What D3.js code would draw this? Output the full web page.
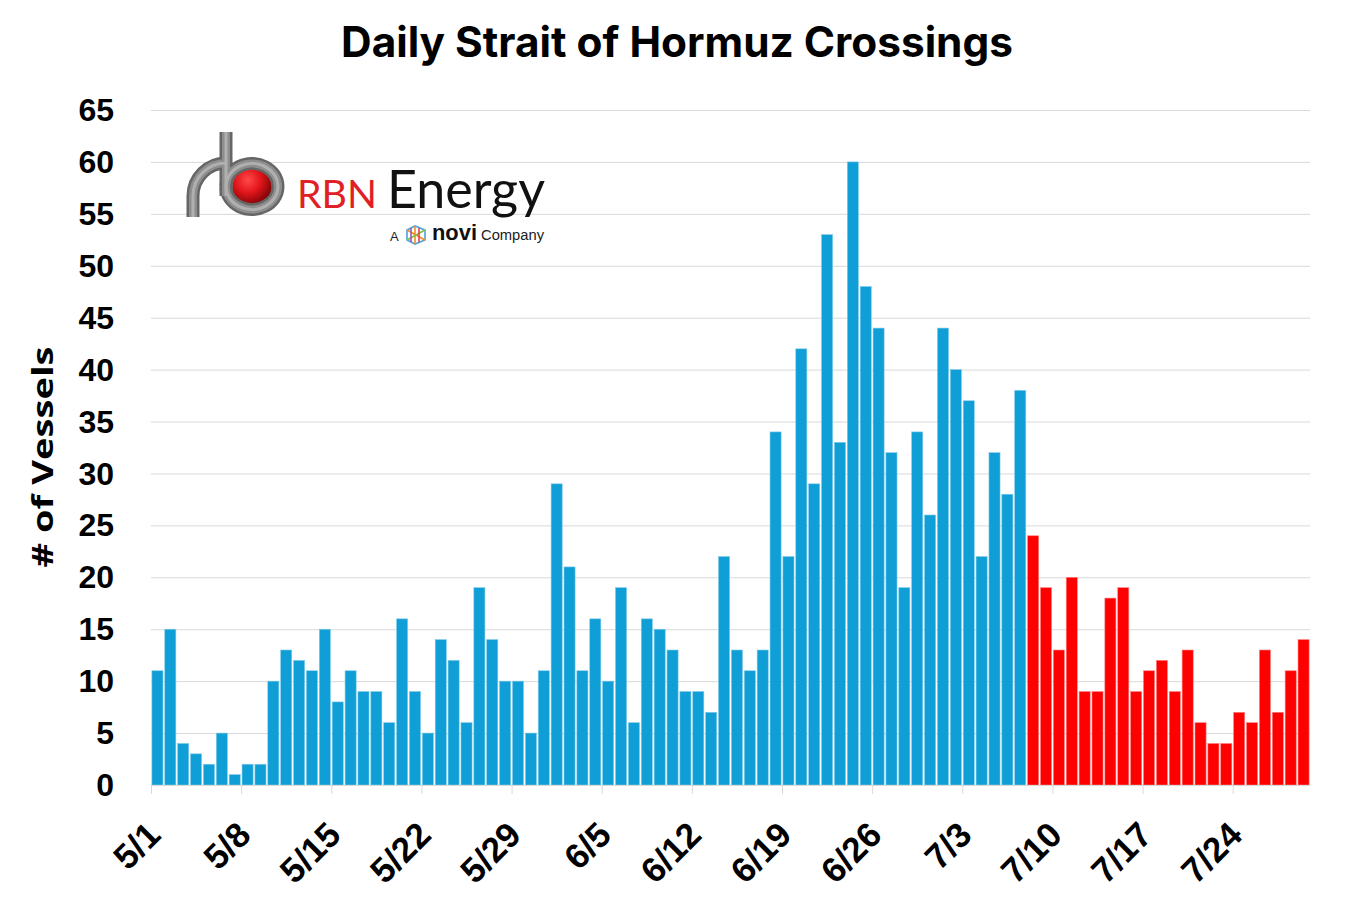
<!DOCTYPE html>
<html>
<head>
<meta charset="utf-8">
<script src="https://cdn.jsdelivr.net/npm/d3@7/dist/d3.min.js"></script>
<style>
  body { margin: 0; background: #fff; }
  .axis text { font-family: "Liberation Sans", Arial, sans-serif; font-weight: bold; fill: #000; }
</style>
</head>
<body>
<script>
// data: one value per day from 5/1 to 7/29
var startDate = new Date(2025, 4, 1);
var blueValues = [11, 15, 4, 3, 2, 5, 1, 2, 2, 10, 13, 12, 11, 15, 8, 11, 9, 9, 6, 16,
                  9, 5, 14, 12, 6, 19, 14, 10, 10, 5, 11,
                  29, 21, 11, 16, 10, 19, 6, 16, 15, 13, 9, 9, 7, 22, 13, 11, 13, 34, 22,
                  42, 29, 53, 33, 60, 48, 44, 32, 19, 34, 26,
                  44, 40, 37, 22, 32, 28, 38];
var redValues = [24, 19, 13, 20, 9, 9, 18, 19, 9, 11, 12, 9, 13, 6, 4, 4, 7, 6, 13, 7, 11, 14];
var yTicks = [0, 5, 10, 15, 20, 25, 30, 35, 40, 45, 50, 55, 60, 65];
var tickLabels = ["5/1", "5/8", "5/15", "5/22", "5/29", "6/5", "6/12", "6/19", "6/26",
                  "7/3", "7/10", "7/17", "7/24"];

var svgWidth = 1345;
var svgHeight = 921;
var plotLeft = 151, plotRight = 1310, plotTop = 110, plotBottom = 785;

var values = blueValues.concat(redValues);
var dataset = values.map(function(v, i) {
  return { date: d3.timeDay.offset(startDate, i), value: v, red: i >= blueValues.length };
});
var endDate = d3.timeDay.offset(startDate, values.length);

var xScale = d3.scaleTime()
               .domain([startDate, endDate])
               .range([plotLeft, plotRight]);

var yScale = d3.scaleLinear()
               .domain([0, 65])
               .range([plotBottom, plotTop]);

var svg = d3.select("body")
            .append("svg")
            .attr("width", svgWidth)
            .attr("height", svgHeight);

// shrink or grow the font so the text takes the measured width
function fitText(sel, target) {
  var node = sel.node();
  var fs = parseFloat(sel.attr("font-size"));
  var len = node.getComputedTextLength();
  sel.attr("font-size", (fs * target / len).toFixed(2));
}

// gridlines
svg.append("g")
   .attr("class", "grid")
   .attr("transform", "translate(" + plotLeft + ",0)")
   .call(d3.axisLeft(yScale).tickValues(yTicks.slice(1)).tickSize(-(plotRight - plotLeft)).tickFormat(""))
   .call(function(g) {
     g.select(".domain").remove();
     g.selectAll("line").attr("stroke", "#d9d9d9").attr("stroke-width", 1);
   });

// bars
var band = xScale(d3.timeDay.offset(startDate, 1)) - xScale(startDate);
var gap = 1.8;

svg.selectAll("rect.bar")
   .data(dataset)
   .enter()
   .append("rect")
   .attr("class", "bar")
   .attr("x", function(d) { return xScale(d.date) + gap / 2; })
   .attr("y", function(d) { return yScale(d.value); })
   .attr("width", band - gap)
   .attr("height", function(d) { return plotBottom - yScale(d.value); })
   .attr("fill", function(d) { return d.red ? "#ff0000" : "#0f9ed5"; })
   .attr("stroke", function(d) { return d.red ? "#ff8080" : "#7fcbea"; })
   .attr("stroke-width", 0.6);

// x axis
var tickDates = tickLabels.map(function(t) {
  var p = t.split("/");
  return new Date(2025, +p[0] - 1, +p[1]);
});

var xAxis = d3.axisBottom(xScale)
              .tickValues(tickDates)
              .tickSizeInner(9)
              .tickSizeOuter(0)
              .tickFormat(function(d, i) { return tickLabels[i]; });

svg.append("g")
   .attr("class", "axis")
   .attr("transform", "translate(0," + plotBottom + ")")
   .call(xAxis)
   .call(function(g) {
     g.select(".domain").attr("stroke", "#d9d9d9");
     g.selectAll(".tick line").attr("stroke", "#d9d9d9");
     g.selectAll(".tick text")
      .attr("font-size", 35)
      .attr("x", 0).attr("y", 0).attr("dy", 0)
      .attr("text-anchor", "end")
      .attr("transform", "translate(11,52) rotate(-45)");
   });

// y axis
var yAxis = d3.axisLeft(yScale)
              .tickValues(yTicks)
              .tickSize(0)
              .tickPadding(37);

svg.append("g")
   .attr("class", "axis")
   .attr("transform", "translate(" + plotLeft + ",0)")
   .call(yAxis)
   .call(function(g) {
     g.select(".domain").remove();
     g.selectAll(".tick text").attr("font-size", 32).attr("dy", "0.33em");
   });

// title
var title = svg.append("text")
   .attr("x", 677)
   .attr("y", 57)
   .attr("text-anchor", "middle")
   .attr("font-family", "Inter, 'Open Sans', sans-serif")
   .attr("font-weight", "bold")
   .attr("font-size", 36)
   .text("Daily Strait of Hormuz Crossings");
fitText(title, 672);

// y axis title
svg.append("text")
   .attr("transform", "translate(53,457) rotate(-90)")
   .attr("text-anchor", "middle")
   .attr("font-family", "'Open Sans', sans-serif")
   .attr("font-weight", "bold")
   .attr("font-size", 28.5)
   .attr("textLength", 221)
   .attr("lengthAdjust", "spacingAndGlyphs")
   .text("# of Vessels");

// logo
var logo = svg.append("g").attr("class", "logo");
var defs = svg.append("defs");
var grad = defs.append("radialGradient")
   .attr("id", "ball")
   .attr("cx", "40%").attr("cy", "30%").attr("r", "70%");
grad.append("stop").attr("offset", "0%").attr("stop-color", "#ff4a4a");
grad.append("stop").attr("offset", "45%").attr("stop-color", "#e3161c");
grad.append("stop").attr("offset", "100%").attr("stop-color", "#6e0000");

logo.append("circle")
    .attr("cx", 252).attr("cy", 188).attr("r", 20)
    .attr("fill", "url(#ball)");

var pipe = "M193,217 L193,196 A33,33 0 0 1 226,163 M226,132 L226,196";
[["#666666", 13], ["#8e8e8e", 8], ["#b0b0b0", 3]].forEach(function(s) {
  logo.append("path").attr("d", pipe)
      .attr("fill", "none").attr("stroke", s[0]).attr("stroke-width", s[1]);
  logo.append("path")
      .attr("d", "M226,186 A26,23 0 1 1 226,187")
      .attr("fill", "none").attr("stroke", s[0]).attr("stroke-width", s[1]);
});

var rbn = logo.append("text")
   .attr("x", 297).attr("y", 208)
   .attr("font-family", "Lato, 'Open Sans', sans-serif")
   .attr("font-size", 44)
   .attr("fill", "#e11f26")
   .text("RBN");
fitText(rbn, 80);

var energy = logo.append("text")
   .attr("x", 387).attr("y", 208)
   .attr("font-family", "Lato, 'Open Sans', sans-serif")
   .attr("font-size", 44)
   .attr("fill", "#111")
   .text("Energy");
fitText(energy, 158);

logo.append("text")
   .attr("x", 390).attr("y", 241)
   .attr("font-family", "'Liberation Sans', Arial, sans-serif")
   .attr("font-size", 13)
   .attr("fill", "#222")
   .text("A");

// novi lattice mark
var ic = logo.append("g").attr("transform", "translate(405,226)").attr("fill", "none").attr("stroke-width", 1.6);
ic.append("path").attr("d", "M2,4 L10,0 L20,4 L20,14 L10,18 L2,14 Z").attr("stroke", "#4aa3df");
ic.append("path").attr("d", "M10,0 L10,18 M2,4 L20,14").attr("stroke", "#f28c28");
ic.append("path").attr("d", "M2,14 L20,4").attr("stroke", "#7cc242");
ic.append("path").attr("d", "M14,2 L14,16").attr("stroke", "#e8433f");
ic.append("path").attr("d", "M6,2 L6,16").attr("stroke", "#9b59b6");

var novi = logo.append("text")
   .attr("x", 432).attr("y", 240)
   .attr("font-family", "'Liberation Sans', Arial, sans-serif")
   .attr("font-weight", "bold")
   .attr("font-size", 22)
   .attr("fill", "#111")
   .text("novi");
fitText(novi, 45);

var comp = logo.append("text")
   .attr("x", 481).attr("y", 240)
   .attr("font-family", "'Liberation Sans', Arial, sans-serif")
   .attr("font-size", 13)
   .attr("fill", "#222")
   .text("Company");
fitText(comp, 63);
</script>
</body>
</html>
